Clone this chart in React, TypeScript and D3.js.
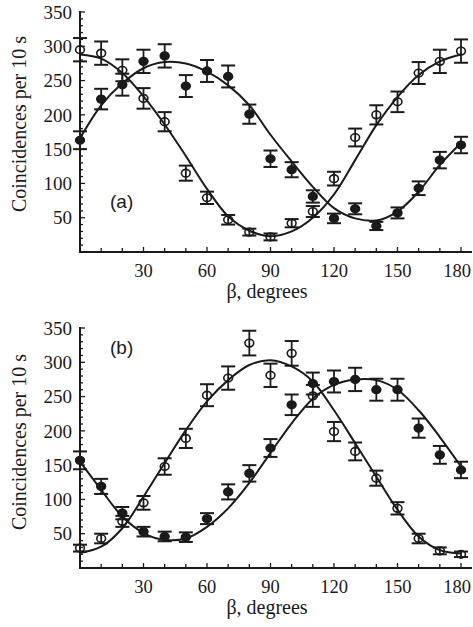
import React from "react";
import * as d3 from "d3";

// β angles (degrees)
const angles = [0, 10, 20, 30, 40, 50, 60, 70, 80, 90, 100, 110, 120, 130, 140, 150, 160, 170, 180];

// Panel (a)
const openA = [295, 290, 265, 224, 190, 115, 79, 47, 29, 22, 42, 59, 107, 167, 200, 219, 261, 278, 293];
const openAErr = [17, 17, 16, 15, 14, 11, 9, 7, 5, 5, 6, 8, 10, 13, 14, 15, 16, 17, 17];
const filledA = [163, 223, 244, 278, 286, 242, 264, 256, 201, 136, 120, 81, 49, 63, 38, 57, 93, 134, 156];
const filledAErr = [13, 15, 16, 17, 17, 16, 16, 16, 14, 12, 11, 9, 7, 8, 6, 8, 10, 12, 12];
const fitOpenA = [288, 282, 261, 227, 186, 140, 92, 52, 31, 23, 30, 50, 84, 134, 185, 226, 258, 278, 288];
const fitFilledA = [166, 214, 246, 268, 277, 275, 263, 243, 214, 171, 132, 95, 64, 49, 46, 59, 88, 127, 159];

// Panel (b)
const openB = [29, 43, 68, 95, 148, 189, 252, 277, 328, 281, 313, 251, 199, 170, 131, 87, 43, 25, 20];
const openBErr = [5, 7, 8, 10, 12, 14, 16, 17, 18, 17, 18, 16, 14, 13, 11, 9, 7, 5, 4];
const filledB = [157, 119, 80, 53, 46, 45, 72, 111, 138, 175, 238, 269, 272, 275, 260, 260, 204, 165, 143];
const filledBErr = [13, 11, 9, 7, 7, 7, 8, 11, 12, 13, 15, 16, 16, 17, 16, 16, 14, 13, 12];
const fitOpenB = [22, 31, 58, 104, 153, 201, 243, 274, 296, 303, 294, 272, 230, 182, 133, 85, 46, 26, 21];
const fitFilledB = [155, 114, 75, 51, 41, 43, 60, 87, 124, 168, 211, 247, 267, 275, 274, 260, 230, 191, 148];

// Axis ticks / labels
const xTickLabels = [30, 60, 90, 120, 150, 180];
const xMinorTicks = [10, 20, 30, 40, 50, 60, 70, 80, 90, 100, 110, 120, 130, 140, 150, 160, 170, 180];
const yTickLabels = [50, 100, 150, 200, 250, 300, 350];
const yMinorTicks = d3.range(10, 351, 10);

const FONT = "Liberation Serif, Times New Roman, serif";
const INK = "#1a1a1a";

type PanelProps = {
  top: number;
  label: string;
  labelY: number;
  titleY: number;
  open: number[];
  openErr: number[];
  filled: number[];
  filledErr: number[];
  fitOpen: number[];
  fitFilled: number[];
};

function Panel(p: PanelProps) {
  const x = d3.scaleLinear().domain([0, 180]).range([80, 461]);
  const y = d3.scaleLinear().domain([0, 350]).range([p.top + 240, p.top]);
  const x0 = x(0);
  const yBase = y(0);
  const line = d3
    .line<number>()
    .x((_, i) => x(angles[i]))
    .y((v) => y(v))
    .curve(d3.curveCatmullRom.alpha(0.5));

  const errBar = (vals: number[], errs: number[], filled: boolean, key: string) =>
    vals.map((v, i) => {
      const cx = x(angles[i]);
      const yt = y(v + errs[i]);
      const yb = y(v - errs[i]);
      return (
        <g key={key + i}>
          <line x1={cx} x2={cx} y1={yt} y2={yb} stroke={INK} strokeWidth={1.8} />
          <line x1={cx - 7} x2={cx + 7} y1={yt} y2={yt} stroke={INK} strokeWidth={2} />
          <line x1={cx - 7} x2={cx + 7} y1={yb} y2={yb} stroke={INK} strokeWidth={2} />
          <ellipse
            cx={cx}
            cy={y(v)}
            rx={4.4}
            ry={3.8}
            fill={filled ? INK : "white"}
            fillOpacity={filled ? 1 : 0}
            stroke={INK}
            strokeWidth={1.6}
          />
        </g>
      );
    });

  return (
    <g>
      {/* fit curves */}
      <path d={line(p.fitOpen) || ""} fill="none" stroke={INK} strokeWidth={2} />
      <path d={line(p.fitFilled) || ""} fill="none" stroke={INK} strokeWidth={2} />
      {errBar(p.open, p.openErr, false, "o")}
      {errBar(p.filled, p.filledErr, true, "f")}

      {/* axes */}
      <line x1={x0} x2={x0} y1={y(350) - 1} y2={yBase} stroke={INK} strokeWidth={2} />
      <line x1={x0 - 1} x2={472} y1={yBase} y2={yBase} stroke={INK} strokeWidth={2} />
      {yMinorTicks.map((t) => (
        <line
          key={"ym" + t}
          x1={x0}
          x2={x0 + (t % 50 === 0 ? 5 : 3)}
          y1={y(t)}
          y2={y(t)}
          stroke={INK}
          strokeWidth={1.3}
        />
      ))}
      {xMinorTicks.map((t) => (
        <line
          key={"xm" + t}
          x1={x(t)}
          x2={x(t)}
          y1={yBase}
          y2={yBase - (t % 30 === 0 ? 5 : 4)}
          stroke={INK}
          strokeWidth={1.3}
        />
      ))}
      {yTickLabels.map((t) => (
        <text
          key={"yl" + t}
          x={72}
          y={y(t)}
          dy="0.35em"
          textAnchor="end"
          fontFamily={FONT}
          fontSize={19}
          fill={INK}
        >
          {t}
        </text>
      ))}
      {xTickLabels.map((t, i) => {
        const last = i === xTickLabels.length - 1;
        return (
          <text
            key={"xl" + t}
            x={last ? 471 : x(t)}
            y={yBase + 24.5}
            textAnchor={last ? "end" : "middle"}
            fontFamily={FONT}
            fontSize={18.5}
            fill={INK}
          >
            {t}
          </text>
        );
      })}
      <text x={267} y={yBase + 45.5} textAnchor="middle" fontFamily={FONT} fontSize={20} fill={INK}>
        β, degrees
      </text>
      <text
        transform={`translate(26,${p.titleY}) rotate(-90)`}
        textAnchor="middle"
        fontFamily={FONT}
        fontSize={20}
        fill={INK}
      >
        Coincidences per 10 s
      </text>
      <text x={110} y={p.labelY} fontFamily="Liberation Sans, Arial, sans-serif" fontSize={19} fill={INK}>
        {p.label}
      </text>
    </g>
  );
}

export default function App() {
  return (
    <svg
      width={473}
      height={627}
      style={{ position: "absolute", left: 0, top: 0, background: "white" }}
    >
      <rect width={473} height={627} fill="white" />
      <Panel
        top={12}
        label="(a)"
        labelY={208}
        titleY={124}
        open={openA}
        openErr={openAErr}
        filled={filledA}
        filledErr={filledAErr}
        fitOpen={fitOpenA}
        fitFilled={fitFilledA}
      />
      <Panel
        top={328}
        label="(b)"
        labelY={354}
        titleY={442}
        open={openB}
        openErr={openBErr}
        filled={filledB}
        filledErr={filledBErr}
        fitOpen={fitOpenB}
        fitFilled={fitFilledB}
      />
    </svg>
  );
}
